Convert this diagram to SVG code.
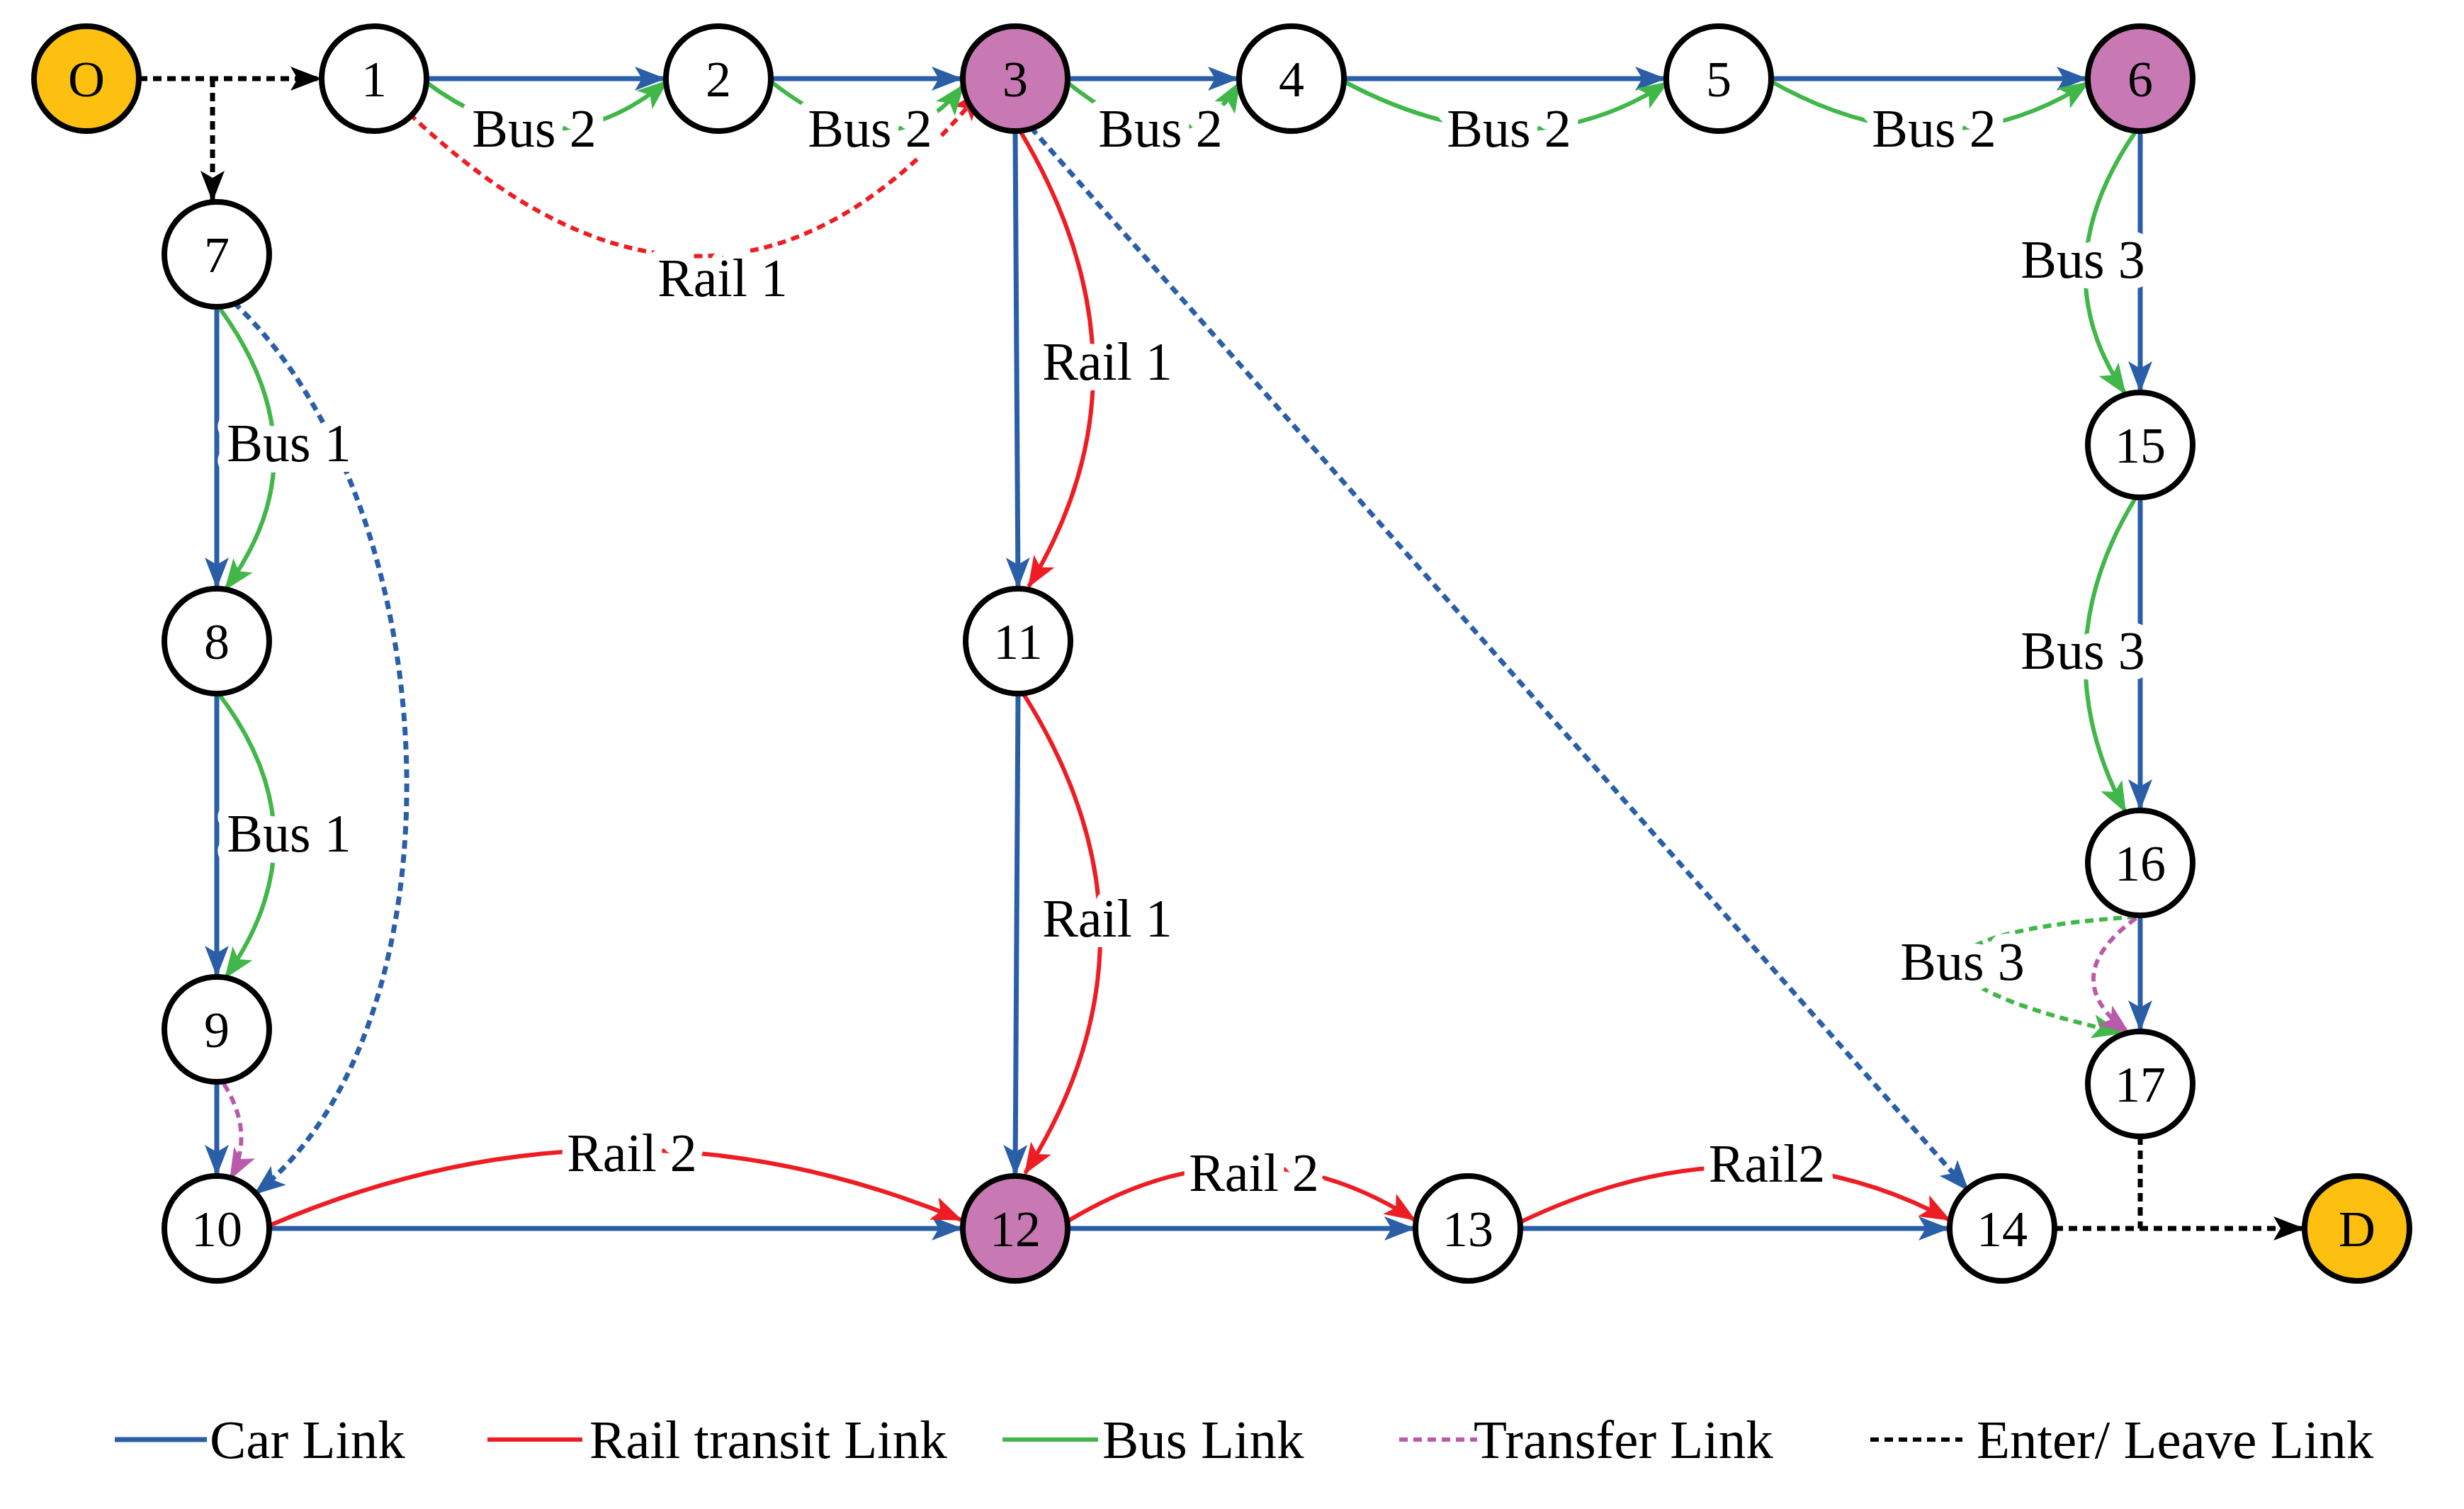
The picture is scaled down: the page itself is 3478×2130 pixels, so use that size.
<svg xmlns="http://www.w3.org/2000/svg" width="3478" height="2130" viewBox="0 0 3478 2130">
<style>
.n{fill:#fff;stroke:#000;stroke-width:8}
.o{fill:#FDC010}.p{fill:#C879B3}
.t{font-family:"Liberation Serif",serif;font-size:72px;text-anchor:middle;fill:#000}
.l{font-family:"Liberation Serif",serif;font-size:76px;text-anchor:middle;fill:#000;stroke:#fff;stroke-width:30;paint-order:stroke;stroke-linejoin:round}
.lg{font-family:"Liberation Serif",serif;font-size:77px;fill:#000}
.car{stroke:#2A5FA8;stroke-width:7;fill:none}
.rail{stroke:#EE1D24;stroke-width:6;fill:none}
.bus{stroke:#41B649;stroke-width:6;fill:none}
.tr{stroke:#B95BAA;stroke-width:6;fill:none;stroke-dasharray:12 8}
.el{stroke:#000;stroke-width:7;fill:none;stroke-dasharray:12 8}
.dot{stroke-dasharray:12 8}
</style>
<defs>
<marker id="ab" markerUnits="userSpaceOnUse" markerWidth="44" markerHeight="34" refX="42" refY="17" orient="auto" viewBox="0 0 44 34"><path d="M0,0 L44,17 L0,34 L10,17 z" fill="#2A5FA8"/></marker>
<marker id="ar" markerUnits="userSpaceOnUse" markerWidth="44" markerHeight="34" refX="42" refY="17" orient="auto" viewBox="0 0 44 34"><path d="M0,0 L44,17 L0,34 L10,17 z" fill="#EE1D24"/></marker>
<marker id="ag" markerUnits="userSpaceOnUse" markerWidth="44" markerHeight="34" refX="42" refY="17" orient="auto" viewBox="0 0 44 34"><path d="M0,0 L44,17 L0,34 L10,17 z" fill="#41B649"/></marker>
<marker id="ak" markerUnits="userSpaceOnUse" markerWidth="44" markerHeight="34" refX="42" refY="17" orient="auto" viewBox="0 0 44 34"><path d="M0,0 L44,17 L0,34 L10,17 z" fill="#000"/></marker>
<marker id="am" markerUnits="userSpaceOnUse" markerWidth="44" markerHeight="34" refX="42" refY="17" orient="auto" viewBox="0 0 44 34"><path d="M0,0 L44,17 L0,34 L10,17 z" fill="#B95BAA"/></marker>
</defs>
<rect width="3478" height="2130" fill="#fff"/>
<g id="connectors">
<path class="el" d="M196,111 L452,111" marker-end="url(#ak)"/>
<path class="el" d="M300,111 L300,283" marker-end="url(#ak)"/>
<path class="el" d="M3021,1604 L3021,1734"/>
<path class="el" d="M2900,1734 L3251,1734" marker-end="url(#ak)"/>
<path class="car" d="M602,111 L938,111" marker-end="url(#ab)"/>
<path class="car" d="M1088,111 L1357,111" marker-end="url(#ab)"/>
<path class="car" d="M1507,111 L1747,111" marker-end="url(#ab)"/>
<path class="car" d="M1897,111 L2350,111" marker-end="url(#ab)"/>
<path class="car" d="M2500,111 L2945,111" marker-end="url(#ab)"/>
<path class="car" d="M3021,185 L3021,552" marker-end="url(#ab)"/>
<path class="car" d="M3021,702 L3021,1142" marker-end="url(#ab)"/>
<path class="car" d="M3021,1292 L3021,1454" marker-end="url(#ab)"/>
<path class="car" d="M306,433 L306,829" marker-end="url(#ab)"/>
<path class="car" d="M306,979 L306,1377" marker-end="url(#ab)"/>
<path class="car" d="M306,1527 L306,1658" marker-end="url(#ab)"/>
<path class="car" d="M1433,185 L1437,829" marker-end="url(#ab)"/>
<path class="car" d="M1437,979 L1433,1658" marker-end="url(#ab)"/>
<path class="car" d="M380,1734 L1357,1734" marker-end="url(#ab)"/>
<path class="car" d="M1507,1734 L1996,1734" marker-end="url(#ab)"/>
<path class="car" d="M2146,1734 L2750,1734" marker-end="url(#ab)"/>
<path class="car dot" d="M330,427 C640,720 660,1450 360,1685" marker-end="url(#ab)"/>
<path class="car dot" d="M1455,180 L2778,1680" marker-end="url(#ab)"/>
<path class="rail dot" d="M535,118 Q1000,600 1385,128" marker-end="url(#ar)"/>
<path class="rail" d="M1440,185 Q1640,520 1452,828" marker-end="url(#ar)"/>
<path class="rail" d="M1445,980 Q1660,1320 1447,1656" marker-end="url(#ar)"/>
<path class="rail" d="M380,1730 Q870,1520 1357,1722" marker-end="url(#ar)"/>
<path class="rail" d="M1505,1725 Q1760,1570 1997,1722" marker-end="url(#ar)"/>
<path class="rail" d="M2146,1725 Q2470,1570 2752,1722" marker-end="url(#ar)"/>
<path class="bus" d="M600,115 Q780,250 942,114" marker-end="url(#ag)"/>
<path class="bus" d="M1088,115 Q1260,250 1360,120" marker-end="url(#ag)"/>
<path class="bus" d="M1505,115 Q1670,250 1750,116" marker-end="url(#ag)"/>
<path class="bus" d="M1897,115 Q2150,250 2354,116" marker-end="url(#ag)"/>
<path class="bus" d="M2500,115 Q2740,250 2948,116" marker-end="url(#ag)"/>
<path class="bus" d="M3015,185 Q2880,380 3000,556" marker-end="url(#ag)"/>
<path class="bus" d="M3015,702 Q2880,920 3000,1146" marker-end="url(#ag)"/>
<path class="bus" d="M310,435 Q460,640 318,832" marker-end="url(#ag)"/>
<path class="bus" d="M310,981 Q460,1180 318,1380" marker-end="url(#ag)"/>
<path class="bus dot" d="M3015,1294 Q2780,1310 2760,1360 Q2780,1410 2995,1458" marker-end="url(#ag)"/>
<path class="tr" d="M3015,1296 Q2900,1380 3005,1458" marker-end="url(#am)"/>
<path class="tr" d="M316,1530 Q360,1600 325,1664" marker-end="url(#am)"/>
</g>
<g id="labels">
<text class="l" x="754" y="207">Bus 2</text>
<text class="l" x="1228" y="207">Bus 2</text>
<text class="l" x="1638" y="207">Bus 2</text>
<text class="l" x="2130" y="207">Bus 2</text>
<text class="l" x="2730" y="207">Bus 2</text>
<text class="l" x="2940" y="392">Bus 3</text>
<text class="l" x="2940" y="944">Bus 3</text>
<text class="l" x="2770" y="1383">Bus 3</text>
<text class="l" x="408" y="651">Bus 1</text>
<text class="l" x="408" y="1202">Bus 1</text>
<text class="l" x="1020" y="418">Rail 1</text>
<text class="l" x="1563" y="536">Rail 1</text>
<text class="l" x="1563" y="1322">Rail 1</text>
<text class="l" x="892" y="1653">Rail 2</text>
<text class="l" x="1770" y="1681">Rail 2</text>
<text class="l" x="2494" y="1668">Rail2</text>
</g>
<g id="nO"><circle class="n o" cx="122" cy="111" r="74"/><text class="t" x="122" y="136">O</text></g>
<g id="n1"><circle class="n" cx="528" cy="111" r="74"/><text class="t" x="528" y="136">1</text></g>
<g id="n2"><circle class="n" cx="1014" cy="111" r="74"/><text class="t" x="1014" y="136">2</text></g>
<g id="n3"><circle class="n p" cx="1433" cy="111" r="74"/><text class="t" x="1433" y="136">3</text></g>
<g id="n4"><circle class="n" cx="1823" cy="111" r="74"/><text class="t" x="1823" y="136">4</text></g>
<g id="n5"><circle class="n" cx="2426" cy="111" r="74"/><text class="t" x="2426" y="136">5</text></g>
<g id="n6"><circle class="n p" cx="3021" cy="111" r="74"/><text class="t" x="3021" y="136">6</text></g>
<g id="n7"><circle class="n" cx="306" cy="359" r="74"/><text class="t" x="306" y="384">7</text></g>
<g id="n8"><circle class="n" cx="306" cy="905" r="74"/><text class="t" x="306" y="930">8</text></g>
<g id="n9"><circle class="n" cx="306" cy="1453" r="74"/><text class="t" x="306" y="1478">9</text></g>
<g id="n10"><circle class="n" cx="306" cy="1734" r="74"/><text class="t" x="306" y="1759">10</text></g>
<g id="n11"><circle class="n" cx="1437" cy="905" r="74"/><text class="t" x="1437" y="930">11</text></g>
<g id="n12"><circle class="n p" cx="1433" cy="1734" r="74"/><text class="t" x="1433" y="1759">12</text></g>
<g id="n13"><circle class="n" cx="2072" cy="1734" r="74"/><text class="t" x="2072" y="1759">13</text></g>
<g id="n14"><circle class="n" cx="2826" cy="1734" r="74"/><text class="t" x="2826" y="1759">14</text></g>
<g id="nD"><circle class="n o" cx="3327" cy="1734" r="74"/><text class="t" x="3327" y="1759">D</text></g>
<g id="n15"><circle class="n" cx="3021" cy="628" r="74"/><text class="t" x="3021" y="653">15</text></g>
<g id="n16"><circle class="n" cx="3021" cy="1218" r="74"/><text class="t" x="3021" y="1243">16</text></g>
<g id="n17"><circle class="n" cx="3021" cy="1530" r="74"/><text class="t" x="3021" y="1555">17</text></g>
<g id="legend">
<path class="car" d="M162,2032 L292,2032"/><text class="lg" x="296" y="2058">Car Link</text>
<path class="rail" d="M688,2032 L822,2032"/><text class="lg" x="832" y="2058">Rail transit Link</text>
<path class="bus" d="M1415,2032 L1550,2032"/><text class="lg" x="1556" y="2058">Bus Link</text>
<path class="tr" d="M1975,2032 L2085,2032"/><text class="lg" x="2080" y="2058">Transfer Link</text>
<path class="el" style="stroke-width:6" d="M2640,2032 L2770,2032"/><text class="lg" x="2790" y="2058">Enter/ Leave Link</text>
</g>
</svg>
